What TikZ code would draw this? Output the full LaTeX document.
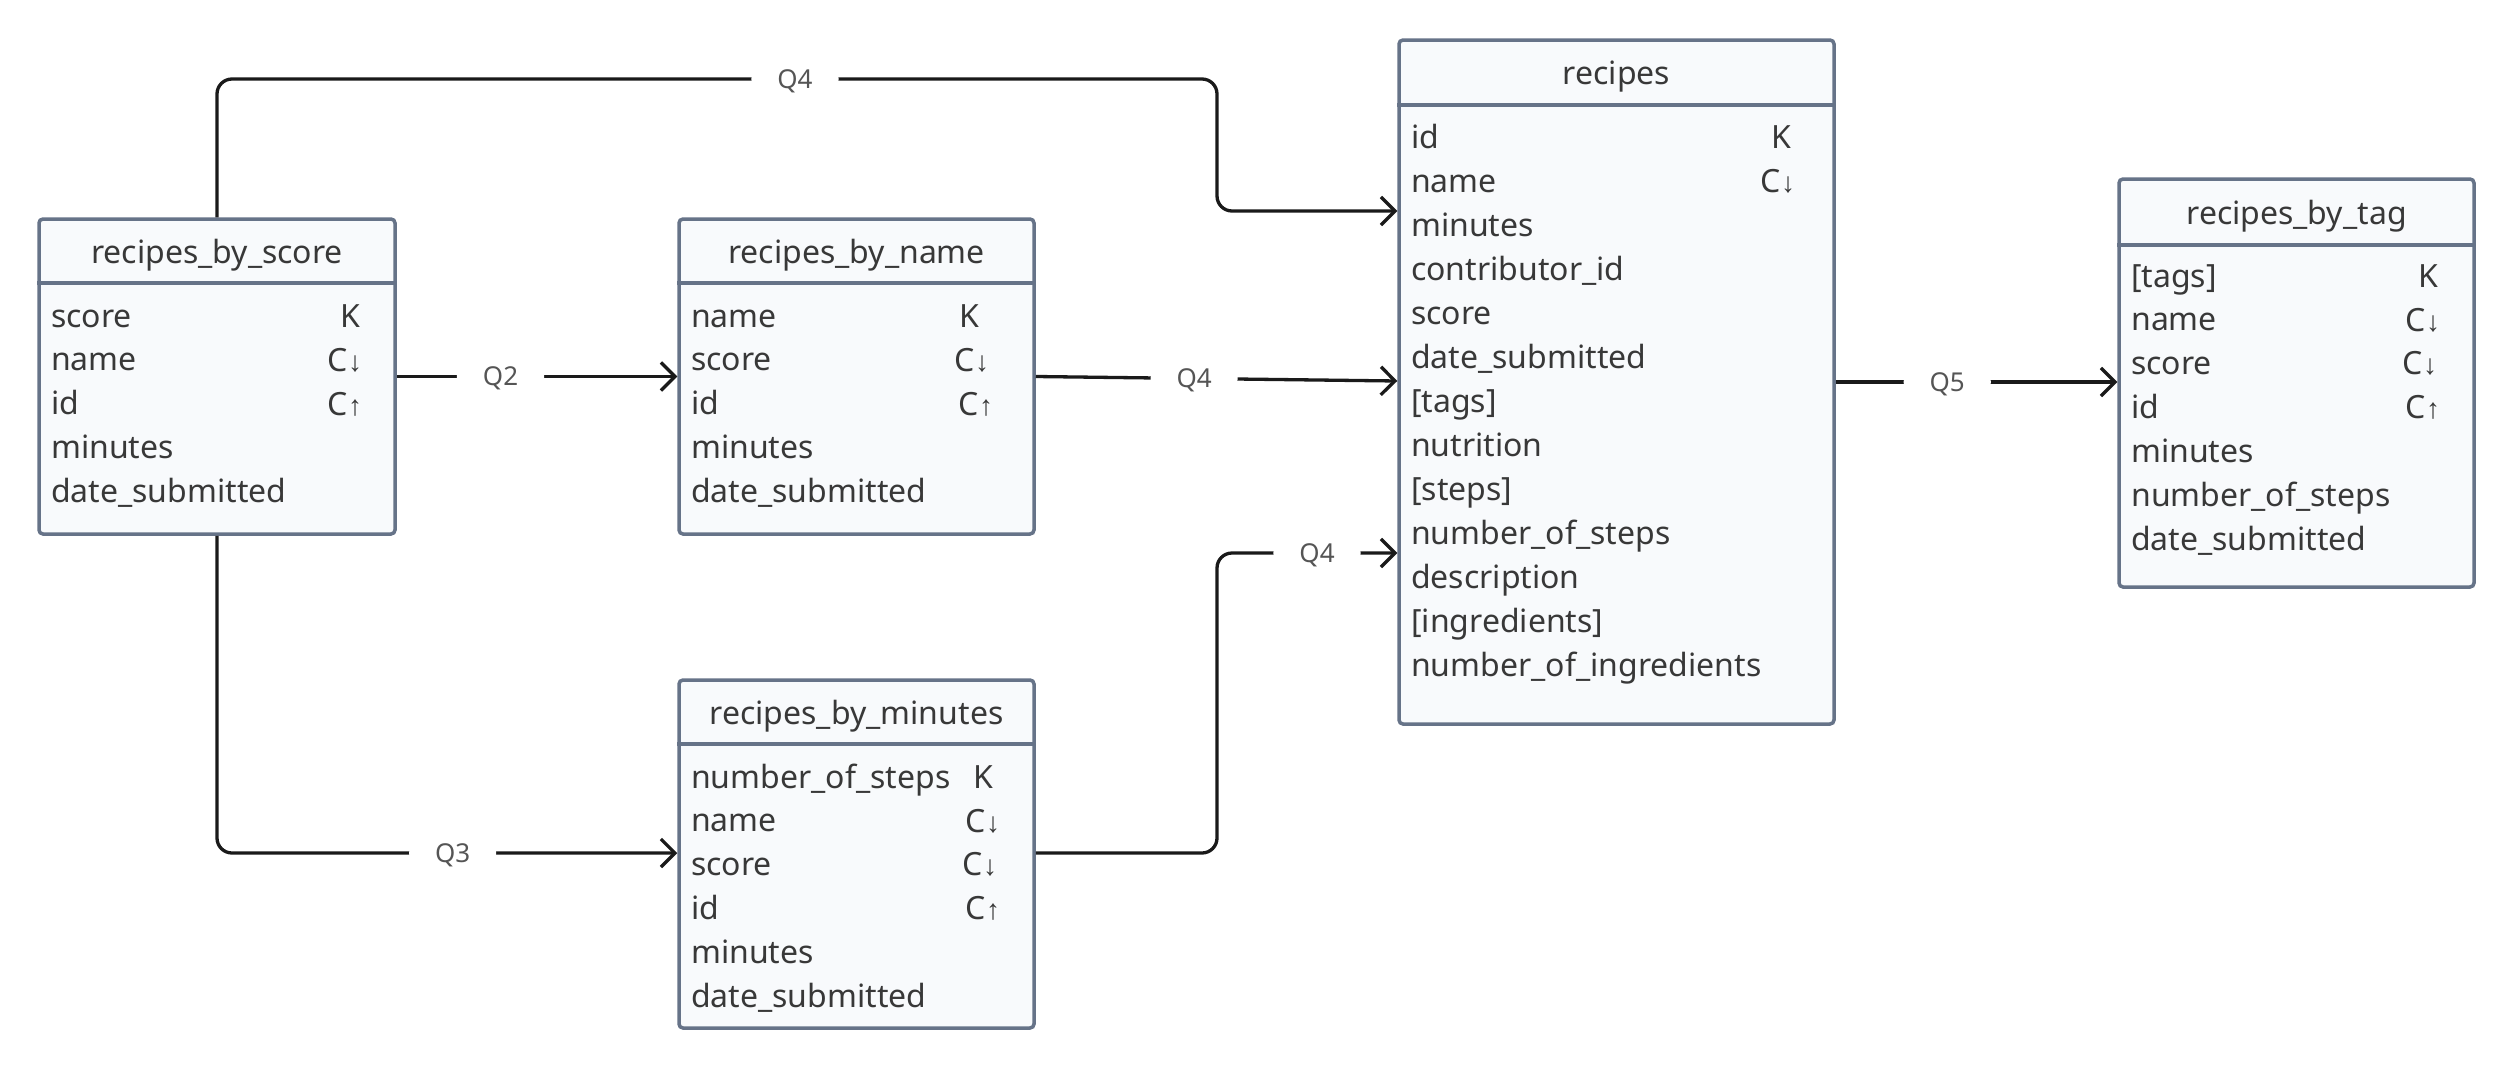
\documentclass[tikz,border=0pt]{standalone}
\usepackage{fontspec}
\setmainfont{Noto Sans}
\newfontfamily\arrfont{Liberation Sans}
\usetikzlibrary{arrows.meta}
\definecolor{bordc}{HTML}{667388}
\definecolor{fillc}{HTML}{F8FAFC}
\definecolor{txtc}{HTML}{383838}
\definecolor{linec}{HTML}{1A1A1A}
\definecolor{lblc}{HTML}{555555}
\newcommand\ardn{{\arrfont\fontsize{28}{30}\selectfont ↓}}
\newcommand\arup{{\arrfont\fontsize{28}{30}\selectfont ↑}}
\begin{document}
\begin{tikzpicture}[x=1pt,y=-1pt,
  tbl/.style={draw=bordc, fill=fillc, line width=3.5pt, rounded corners=4pt, inner sep=0pt},
  sepline/.style={draw=bordc, line width=3.5pt},
  ttl/.style={anchor=base, text=txtc, font=\fontsize{32}{38}\selectfont, inner sep=0pt, yshift=-10pt},
  fld/.style={anchor=base west, text=txtc, font=\fontsize{32}{38}\selectfont, inner sep=0pt, yshift=-10pt},
  keyc/.style={anchor=base, text=txtc, font=\fontsize{32}{38}\selectfont, inner sep=0pt, yshift=-10pt},
  conn/.style={draw=linec, line width=3.3pt, rounded corners=15pt},
  arr/.style={-{Straight Barb[length=14pt,width=28pt]}},
  lbl/.style={fill=white, text=lblc, font=\fontsize{26}{30}\selectfont, inner xsep=26pt, inner ysep=4pt, text height=18.6pt, text depth=0pt}
]
\fill[white] (0,0) rectangle (2515,1068);
\useasboundingbox (0,0) rectangle (2515,1068);

% ---------- recipes_by_score
\node[tbl, minimum width=356pt, minimum height=315pt] (score) at (217,376.5) {};
\draw[sepline] (score.west |- 0,283) -- (score.east |- 0,283);
\node[ttl] (score-t) at (217,253) {recipes\_by\_score};
\foreach \t [count=\i from 0] in {score,name,id,minutes,date\_submitted}
  \node[fld] (score-f\i) at (51,317+43.9*\i) {\t};
\node[keyc] (score-k0) at (350,317) {K};
\node[keyc] (score-k1) at (345,361) {C\ardn};
\node[keyc] (score-k2) at (345,405) {C\arup};

% ---------- recipes_by_name
\node[tbl, minimum width=355pt, minimum height=315pt] (name) at (856.5,376.5) {};
\draw[sepline] (name.west |- 0,283) -- (name.east |- 0,283);
\node[ttl] (name-t) at (856.5,253) {recipes\_by\_name};
\foreach \t [count=\i from 0] in {name,score,id,minutes,date\_submitted}
  \node[fld] (name-f\i) at (691,317+43.9*\i) {\t};
\node[keyc] (name-k0) at (969,317) {K};
\node[keyc] (name-k1) at (972,361) {C\ardn};
\node[keyc] (name-k2) at (976,405) {C\arup};

% ---------- recipes_by_minutes
\node[tbl, minimum width=355pt, minimum height=348pt] (minutes) at (856.5,854) {};
\draw[sepline] (minutes.west |- 0,744) -- (minutes.east |- 0,744);
\node[ttl] (minutes-t) at (856.5,714) {recipes\_by\_minutes};
\foreach \t [count=\i from 0] in {number\_of\_steps,name,score,id,minutes,date\_submitted}
  \node[fld] (minutes-f\i) at (691,778+43.9*\i) {\t};
\node[keyc] (minutes-k0) at (983,778) {K};
\node[keyc] (minutes-k1) at (983,822) {C\ardn};
\node[keyc] (minutes-k2) at (980,865) {C\ardn};
\node[keyc] (minutes-k3) at (983,909) {C\arup};

% ---------- recipes
\node[tbl, minimum width=435pt, minimum height=684pt] (recipes) at (1616.5,382) {};
\draw[sepline] (recipes.west |- 0,105) -- (recipes.east |- 0,105);
\node[ttl] (recipes-t) at (1616.5,74) {recipes};
\foreach \t [count=\i from 0] in {id,name,minutes,contributor\_id,score,date\_submitted,[tags],nutrition,[steps],number\_of\_steps,description,[ingredients],number\_of\_ingredients}
  \node[fld] (recipes-f\i) at (1411,138+44*\i) {\t};
\node[keyc] (recipes-k0) at (1781,138) {K};
\node[keyc] (recipes-k1) at (1778,182) {C\ardn};

% ---------- recipes_by_tag
\node[tbl, minimum width=355pt, minimum height=408pt] (tag) at (2296.5,383) {};
\draw[sepline] (tag.west |- 0,245) -- (tag.east |- 0,245);
\node[ttl] (tag-t) at (2296.5,214) {recipes\_by\_tag};
\foreach \t [count=\i from 0] in {[tags],name,score,id,minutes,number\_of\_steps,date\_submitted}
  \node[fld] (tag-f\i) at (2131,277+43.9*\i) {\t};
\node[keyc] (tag-k0) at (2428,277) {K};
\node[keyc] (tag-k1) at (2423,321) {C\ardn};
\node[keyc] (tag-k2) at (2420,364) {C\ardn};
\node[keyc] (tag-k3) at (2423,408) {C\arup};

% ---------- connectors
\draw[conn, arr] (score.north) -- (score.north |- 0,79)
   -- node[lbl, pos=0.578] (l1) {Q4} (1217,79) -- (1217,211) -- (recipes.west |- 0,211);
\draw[conn, arr] (score.east) -- node[lbl, pos=0.37] (l2) {Q2} (name.west);
\draw[conn, arr] (name.east) -- node[lbl, pos=0.438] (l3) {Q4} (recipes.west |- 0,381);
\draw[conn, arr] (score.south) -- (score.south |- 0,853)
   -- node[lbl, pos=0.512] (l4) {Q3} (minutes.west |- 0,853);
\draw[conn, arr] (minutes.east |- 0,853) -- (1217,853) -- (1217,553)
   -- node[lbl, pos=0.555] (l5) {Q4} (recipes.west |- 0,553);
\draw[conn, arr] (recipes.east |- 0,382) -- node[lbl, pos=0.396] (l6) {Q5} (tag.west |- 0,382);
\end{tikzpicture}
\end{document}
